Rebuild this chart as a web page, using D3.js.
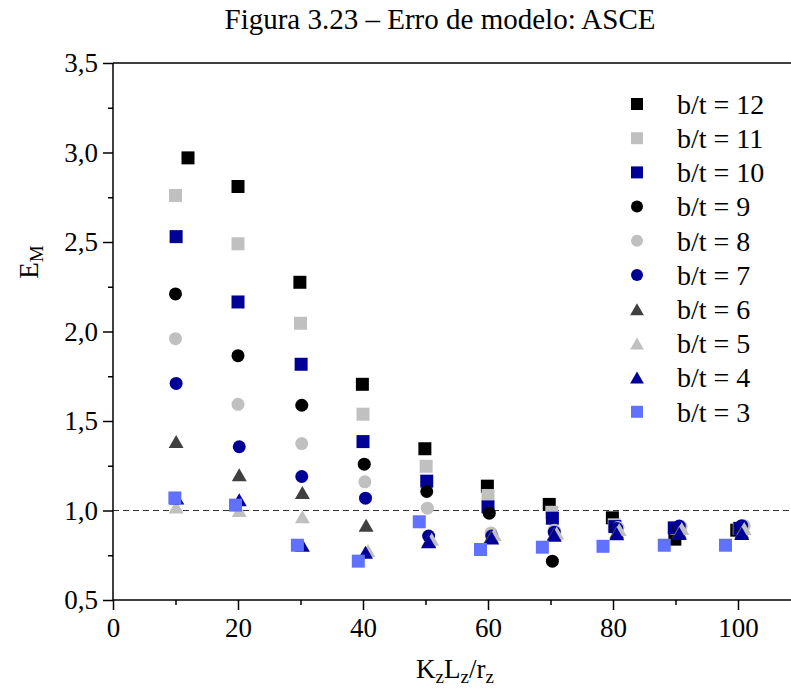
<!DOCTYPE html>
<html>
<head>
<meta charset="utf-8">
<script src="https://cdn.jsdelivr.net/npm/d3@7/dist/d3.min.js"></script>
<style>
html,body{margin:0;padding:0;background:#fff;}
svg{display:block;}
text{font-family:"Liberation Serif","Times New Roman",serif;fill:#000;}
</style>
</head>
<body>
<svg id="chart" width="791" height="695"></svg>
<script>
// ---- data ----
const seriesNames = ["b/t = 12","b/t = 11","b/t = 10","b/t = 9","b/t = 8","b/t = 7","b/t = 6","b/t = 5","b/t = 4","b/t = 3"];
const seriesShapes = ["square","square","square","circle","circle","circle","triangle","triangle","triangle","square"];
const seriesColors = ["#000000","#c0c0c0","#000099","#000000","#c0c0c0","#000099","#404040","#c0c0c0","#000099","#6070ff"];

const x12 = [12.0, 20.0, 29.9, 39.9, 49.9, 59.9, 69.8, 79.9, 89.9, 99.8];
const y12 = [2.97, 2.81, 2.275, 1.705, 1.345, 1.136, 1.034, 0.959, 0.84, 0.89];
const x11 = [10.0, 20.0, 30.0, 40.0, 50.1, 60.0, 70.2, 80.2, 90.2, 100.2];
const y11 = [2.76, 2.49, 2.046, 1.538, 1.247, 1.084, 0.99, 0.92, 0.90, 0.90];
const x10 = [10.1, 20.0, 30.1, 40.0, 50.2, 60.0, 70.3, 80.3, 89.8, 100.3];
const y10 = [2.53, 2.165, 1.817, 1.385, 1.164, 1.02, 0.957, 0.91, 0.903, 0.90];
const x9 = [10.0, 20.0, 30.2, 40.2, 50.2, 60.2, 70.3, 80.5, 90.5, 100.5];
const y9 = [2.21, 1.865, 1.588, 1.259, 1.106, 0.985, 0.717, 0.90, 0.905, 0.91];
const x8 = [10.0, 20.0, 30.2, 40.3, 50.3, 60.5, 70.6, 80.8, 90.9, 101.0];
const y8 = [1.96, 1.593, 1.374, 1.16, 1.013, 0.875, 0.89, 0.905, 0.91, 0.915];
const x7 = [10.1, 20.2, 30.2, 40.4, 50.5, 60.6, 70.6, 80.6, 90.6, 100.6];
const y7 = [1.71, 1.356, 1.19, 1.069, 0.857, 0.857, 0.879, 0.90, 0.913, 0.915];
const x6 = [10.1, 20.2, 30.3, 40.5, 50.5, 60.5, 70.6, 80.6, 90.6, 100.6];
const y6 = [1.385, 1.20, 1.10, 0.918, 0.83, 0.855, 0.87, 0.88, 0.88, 0.88];
const x5 = [10.1, 20.2, 30.3, 40.8, 51.0, 61.0, 71.0, 81.0, 91.0, 101.0];
const y5 = [1.02, 1.0, 0.965, 0.776, 0.84, 0.866, 0.875, 0.894, 0.90, 0.90];
const x4 = [10.2, 20.2, 30.3, 40.4, 50.5, 60.6, 70.6, 80.6, 90.6, 100.6];
const y4 = [1.07, 1.06, 0.806, 0.767, 0.825, 0.847, 0.862, 0.87, 0.871, 0.871];
const x3 = [9.9, 19.6, 29.5, 39.25, 49.0, 58.8, 68.7, 78.4, 88.2, 98.0];
const y3 = [1.07, 1.03, 0.806, 0.717, 0.937, 0.782, 0.795, 0.80, 0.806, 0.806];

const seriesX = [x12, x11, x10, x9, x8, x7, x6, x5, x4, x3];
const seriesY = [y12, y11, y10, y9, y8, y7, y6, y5, y4, y3];

const xMajorTicks = [0, 20, 40, 60, 80, 100];
const xMinorTicks = [10, 30, 50, 70, 90, 110];
const yMajorTicks = [0.5, 1.0, 1.5, 2.0, 2.5, 3.0, 3.5];
const yMinorTicks = [0.75, 1.25, 1.75, 2.25, 2.75, 3.25];
const yTickLabels = ["0,5","1,0","1,5","2,0","2,5","3,0","3,5"];
const refValue = 1.0;

(function () {
// ---- layout ----
const svg = d3.select("#chart");
const W = 791;
const pLeft = 113, pTop = 63, pBottom = 600;
const x = d3.scaleLinear().domain([0, 110]).range([pLeft, pLeft + 110 * 6.25]);
const y = d3.scaleLinear().domain([0.5, 3.5]).range([pBottom, pTop]);

// title
svg.append("text").attr("x", 440).attr("y", 29).attr("text-anchor", "middle")
  .style("font-size", "29px").text("Figura 3.23 – Erro de modelo: ASCE");

// reference dashed line
svg.append("line").attr("x1", pLeft).attr("x2", W).attr("y1", y(refValue)).attr("y2", y(refValue))
  .attr("stroke", "#333").attr("stroke-width", 1.2).attr("stroke-dasharray", "6,4");

// axes
const gx = svg.append("g").attr("transform", `translate(0,${pBottom})`)
  .call(d3.axisBottom(x).tickValues(xMajorTicks).tickSize(10).tickPadding(8).tickFormat(d3.format("d")));
const gxm = svg.append("g").attr("transform", `translate(0,${pBottom})`)
  .call(d3.axisBottom(x).tickValues(xMinorTicks).tickSize(5).tickFormat(""));
const gy = svg.append("g").attr("transform", `translate(${pLeft},0)`)
  .call(d3.axisLeft(y).tickValues(yMajorTicks).tickSize(10).tickPadding(5).tickFormat((d, i) => yTickLabels[i]));
const gym = svg.append("g").attr("transform", `translate(${pLeft},0)`)
  .call(d3.axisLeft(y).tickValues(yMinorTicks).tickSize(5).tickFormat(""));
[gx, gxm, gy, gym].forEach(g => {
  g.select(".domain").remove();
  g.selectAll("line").attr("stroke", "#000").attr("stroke-width", 1.5);
  g.selectAll("text").style("font-family", "'Liberation Serif', serif").style("font-size", "27px").attr("fill", "#000");
});
// axis lines / frame
svg.append("line").attr("x1", pLeft).attr("x2", W).attr("y1", pBottom).attr("y2", pBottom).attr("stroke", "#000").attr("stroke-width", 1.5);
svg.append("line").attr("x1", pLeft).attr("x2", W).attr("y1", pTop).attr("y2", pTop).attr("stroke", "#000").attr("stroke-width", 1.5);
svg.append("line").attr("x1", pLeft).attr("x2", pLeft).attr("y1", pTop).attr("y2", pBottom).attr("stroke", "#000").attr("stroke-width", 1.5);

// axis titles
const xt = svg.append("text").attr("x", 455).attr("y", 678).attr("text-anchor", "middle").style("font-size", "27px");
const subs = [["K", "z"], ["L", "z"], ["/r", "z"]];
subs.forEach(([main, sub], k) => {
  xt.append("tspan").attr("dy", k === 0 ? 0 : -5).text(main);
  xt.append("tspan").attr("dy", 5).style("font-size", "19px").text(sub);
});

const yt = svg.append("text").attr("transform", "translate(38,262) rotate(-90)").attr("text-anchor", "middle").style("font-size", "27px");
yt.append("tspan").text("E");
yt.append("tspan").attr("dy", 5).style("font-size", "19px").text("M");

// markers
function markerPath(shape, s) {
  if (shape === "square") {
    const h = s / 2;
    return `M${-h},${-h}H${h}V${h}H${-h}Z`;
  }
  if (shape === "circle") {
    const r = s / 2;
    return `M${r},0A${r},${r} 0 1,1 ${-r},0A${r},${r} 0 1,1 ${r},0Z`;
  }
  const w = s * 1.15 / 2, h = s / 2;
  return `M0,${-h}L${w},${h}L${-w},${h}Z`;
}

const plot = svg.append("g");
seriesNames.forEach((name, i) => {
  const pts = seriesX[i].map((xv, j) => ({ x: xv, y: seriesY[i][j] }));
  plot.append("g").selectAll("path").data(pts).enter().append("path")
    .attr("transform", d => `translate(${x(d.x)},${y(d.y)})`)
    .attr("d", markerPath(seriesShapes[i], 13))
    .attr("fill", seriesColors[i]);
});

// legend
const leg = svg.append("g");
seriesNames.forEach((name, i) => {
  const cy = 104 + i * 34.2;
  leg.append("path").attr("transform", `translate(637,${cy})`)
    .attr("d", markerPath(seriesShapes[i], 12)).attr("fill", seriesColors[i]);
  leg.append("text").attr("x", 677).attr("y", cy).attr("dy", "0.35em")
    .style("font-size", "28px").text(name);
});
})();
</script>
</body>
</html>
